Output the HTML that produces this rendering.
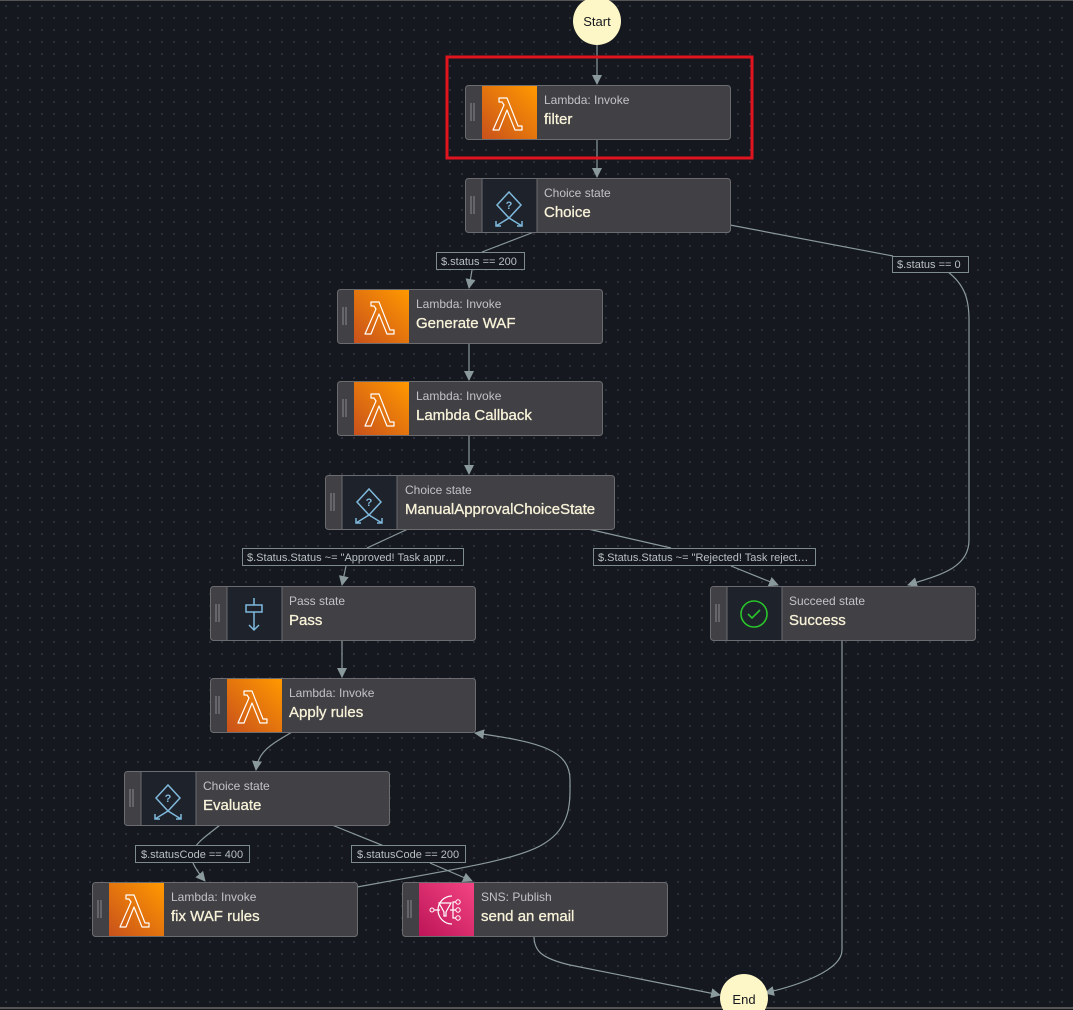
<!DOCTYPE html>
<html><head><meta charset="utf-8"><style>
html,body{margin:0;padding:0;background:#161820;}
svg{display:block}
text{font-family:"Liberation Sans",sans-serif}
.s{font-size:12px;fill:#c3c3c6}
.b{font-size:15px;fill:#f7f2d8;font-weight:normal;stroke:#f7f2d8;stroke-width:0.3}
.lb{font-size:11px;fill:#b8c0c2}
.e{stroke:#8a9a9c;stroke-width:1.2;fill:none}
</style></head><body>
<svg width="1073" height="1010" viewBox="0 0 1073 1010" xmlns="http://www.w3.org/2000/svg">
<defs>
<pattern id="dots" width="12" height="12" patternUnits="userSpaceOnUse"><circle cx="6" cy="6" r="0.9" fill="#3c404a"/></pattern>
<linearGradient id="lg" x1="0" y1="1" x2="1" y2="0"><stop offset="0" stop-color="#c8511b"/><stop offset="1" stop-color="#ff9900"/></linearGradient>
<linearGradient id="pg" x1="0" y1="1" x2="1" y2="0"><stop offset="0" stop-color="#bd1558"/><stop offset="1" stop-color="#f34482"/></linearGradient>
<marker id="a" viewBox="0 0 10 10" refX="9" refY="5" markerWidth="10" markerHeight="10" orient="auto" markerUnits="userSpaceOnUse"><path d="M0,0 L10,5 L0,10 z" fill="#8a9a9c"/></marker>
<g id="node"><rect x="0.5" y="0.5" width="265" height="54" rx="3" fill="#414045" stroke="#6b6c70"/><line x1="6" y1="18" x2="6" y2="36" stroke="#8a8a8e"/><line x1="9" y1="18" x2="9" y2="36" stroke="#8a8a8e"/></g>
<g id="lam"><rect x="17" y="1" width="55" height="53" fill="url(#lg)"/><path d="M34,13 L42,13 L53,41 L57,41 L57,45 L50,45 L42,25 L34,45 L28,45 L39,20 L37,17 L34,17 Z" fill="none" stroke="#fff" stroke-width="1.2" stroke-linejoin="round"/></g>
<g id="cho"><rect x="17" y="1" width="55" height="53" fill="#1e222a"/><line x1="17" y1="1" x2="17" y2="54" stroke="#6b6c70"/><line x1="72" y1="1" x2="72" y2="54" stroke="#6b6c70"/><path d="M44,14 L56,27 L44,40 L32,27 Z" fill="none" stroke="#7fb9dc" stroke-width="1.5"/><text x="44" y="31" font-size="11" font-weight="bold" fill="#7fb9dc" text-anchor="middle">?</text><path d="M44,40 L31,48 M44,40 L57,48 M31,43 L31,48 L36,48 M57,43 L57,48 L52,48" fill="none" stroke="#7fb9dc" stroke-width="1.5"/></g>
</defs>
<rect width="1073" height="1010" fill="#161820"/>
<rect width="1073" height="1010" fill="url(#dots)"/>
<line x1="0" y1="0.5" x2="1073" y2="0.5" stroke="#555"/>
<line x1="0" y1="1008" x2="1073" y2="1008" stroke="#555" stroke-width="2"/>

<path class="e" d="M597,45 L597,84" marker-end="url(#a)"/>
<path class="e" d="M597,139 L597,177" marker-end="url(#a)"/>
<path class="e" d="M534,232 L482,252" /><path class="e" d="M472,270 L469,288" marker-end="url(#a)"/>
<path class="e" d="M730,225 L893,256"/>
<path class="e" d="M948,272 C965,285 969,300 969,320 L969,540 C969,568 940,575 908,585" marker-end="url(#a)"/>
<path class="e" d="M469,343 L469,380" marker-end="url(#a)"/>
<path class="e" d="M469,435 L469,474" marker-end="url(#a)"/>
<path class="e" d="M408,529 L367,548"/><path class="e" d="M346,566 L342,585" marker-end="url(#a)"/>
<path class="e" d="M588,529 L671,548"/><path class="e" d="M731,566 L778,585" marker-end="url(#a)"/>
<path class="e" d="M342,640 L342,677" marker-end="url(#a)"/>
<path class="e" d="M292,732 C270,745 258,752 256,770" marker-end="url(#a)"/>
<path class="e" d="M220,825 C210,833 200,840 196,846"/><path class="e" d="M193,863 C196,870 200,875 205,881" marker-end="url(#a)"/>
<path class="e" d="M332,825 L384,846"/><path class="e" d="M430,863 L472,881" marker-end="url(#a)"/>
<path class="e" d="M357,887 C450,870 520,860 545,843 C572,826 570,800 570,780 C570,750 540,742 475,733" marker-end="url(#a)"/>
<path class="e" d="M534,936 C534,950 540,958 570,965 L720,995" marker-end="url(#a)"/>
<path class="e" d="M842,640 L842,950 C842,970 800,985 765,993" marker-end="url(#a)"/>

<g><rect x="436.5" y="252.5" width="88" height="17" fill="#161820" stroke="#7e8b8d"/><text class="lb" x="441" y="265">$.status == 200</text></g>
<g><rect x="892.5" y="256.5" width="76" height="16" fill="#161820" stroke="#7e8b8d"/><text class="lb" x="897" y="268">$.status == 0</text></g>
<g><rect x="242.5" y="548.5" width="221" height="17" fill="#161820" stroke="#7e8b8d"/><text class="lb" x="247" y="561">$.Status.Status ~= "Approved! Task appr…</text></g>
<g><rect x="593.5" y="548.5" width="222" height="17" fill="#161820" stroke="#7e8b8d"/><text class="lb" x="598" y="561">$.Status.Status ~= "Rejected! Task reject…</text></g>
<g><rect x="135.5" y="845.5" width="114" height="17" fill="#161820" stroke="#7e8b8d"/><text class="lb" x="141" y="858">$.statusCode == 400</text></g>
<g><rect x="351.5" y="845.5" width="114" height="17" fill="#161820" stroke="#7e8b8d"/><text class="lb" x="357" y="858">$.statusCode == 200</text></g>

<circle cx="597" cy="21" r="24" fill="#fdf6c6"/><text x="597" y="26" font-size="13" text-anchor="middle" fill="#16191f">Start</text>
<circle cx="744" cy="998" r="24" fill="#fdf6c6"/><text x="744" y="1004" font-size="13" text-anchor="middle" fill="#16191f">End</text>

<g transform="translate(465,85)"><use href="#node"/><use href="#lam"/><text class="s" x="79" y="19">Lambda: Invoke</text><text class="b" x="79" y="39">filter</text></g>
<g transform="translate(465,178)"><use href="#node"/><use href="#cho"/><text class="s" x="79" y="19">Choice state</text><text class="b" x="79" y="39">Choice</text></g>
<g transform="translate(337,289)"><use href="#node"/><use href="#lam"/><text class="s" x="79" y="19">Lambda: Invoke</text><text class="b" x="79" y="39">Generate WAF</text></g>
<g transform="translate(337,381)"><use href="#node"/><use href="#lam"/><text class="s" x="79" y="19">Lambda: Invoke</text><text class="b" x="79" y="39">Lambda Callback</text></g>
<g transform="translate(325,475)"><rect x="0.5" y="0.5" width="289" height="54" rx="3" fill="#414045" stroke="#6b6c70"/><line x1="6" y1="18" x2="6" y2="36" stroke="#8a8a8e"/><line x1="9" y1="18" x2="9" y2="36" stroke="#8a8a8e"/><use href="#cho"/><text class="s" x="80" y="19">Choice state</text><text class="b" x="80" y="39">ManualApprovalChoiceState</text></g>
<g transform="translate(210,586)"><use href="#node"/><rect x="17" y="1" width="55" height="53" fill="#1e222a"/><line x1="17" y1="1" x2="17" y2="54" stroke="#6b6c70"/><line x1="72" y1="1" x2="72" y2="54" stroke="#6b6c70"/><path d="M44,12 L44,19 M36,19 L52,19 L52,26 L36,26 Z M44,26 L44,44 M39,39 L44,44 L49,39" fill="none" stroke="#7fb9dc" stroke-width="1.5"/><text class="s" x="79" y="19">Pass state</text><text class="b" x="79" y="39">Pass</text></g>
<g transform="translate(710,586)"><use href="#node"/><rect x="17" y="1" width="55" height="53" fill="#1e222a"/><line x1="17" y1="1" x2="17" y2="54" stroke="#6b6c70"/><line x1="72" y1="1" x2="72" y2="54" stroke="#6b6c70"/><circle cx="44" cy="28" r="13" fill="none" stroke="#29c42b" stroke-width="1.6"/><path d="M38,28 L42,32 L50,24" fill="none" stroke="#29c42b" stroke-width="1.6"/><text class="s" x="79" y="19">Succeed state</text><text class="b" x="79" y="39">Success</text></g>
<g transform="translate(210,678)"><use href="#node"/><use href="#lam"/><text class="s" x="79" y="19">Lambda: Invoke</text><text class="b" x="79" y="39">Apply rules</text></g>
<g transform="translate(124,771)"><use href="#node"/><use href="#cho"/><text class="s" x="79" y="19">Choice state</text><text class="b" x="79" y="39">Evaluate</text></g>
<g transform="translate(92,882)"><use href="#node"/><use href="#lam"/><text class="s" x="79" y="19">Lambda: Invoke</text><text class="b" x="79" y="39">fix WAF rules</text></g>
<g transform="translate(402,882)"><use href="#node"/><rect x="17" y="1" width="55" height="53" fill="url(#pg)"/><path d="M50,14 A14,14 0 1 0 50,42" fill="none" stroke="#fff" stroke-width="1.2"/><path d="M37,21 L49,21 L44,30 L44,34 L42,34 L42,30 Z" fill="none" stroke="#fff" stroke-width="1.2"/><circle cx="30" cy="28" r="2" fill="none" stroke="#fff"/><circle cx="56" cy="20" r="2.2" fill="none" stroke="#fff"/><circle cx="56" cy="28" r="2.2" fill="none" stroke="#fff"/><circle cx="56" cy="36" r="2.2" fill="none" stroke="#fff"/><path d="M32,28 L38,28 M48,28 L54,28 M51,28 L51,20 L54,20 M51,28 L51,36 L54,36" fill="none" stroke="#fff" stroke-width="1.2"/><text class="s" x="79" y="19">SNS: Publish</text><text class="b" x="79" y="39">send an email</text></g>

<rect x="447" y="57" width="305" height="101" fill="none" stroke="#e0141e" stroke-width="3"/>
</svg>
</body></html>
